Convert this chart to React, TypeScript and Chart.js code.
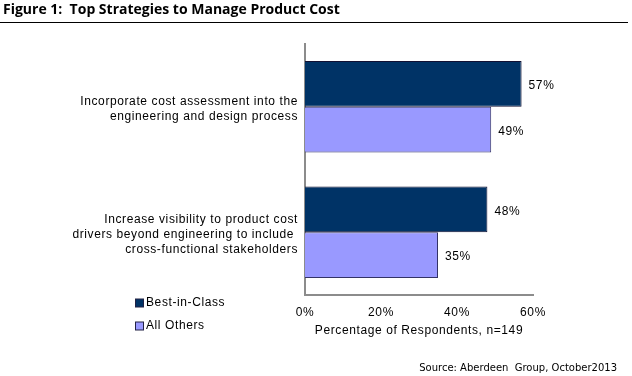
import React, { useEffect, useRef } from "react";
import { Chart, registerables } from "chart.js";

Chart.register(...registerables);

const categories: string[][] = [
  ["Incorporate cost assessment into the", "engineering and design process"],
  ["Increase visibility to product cost", "drivers beyond engineering to include ", "cross-functional stakeholders"],
];
const seriesNames = ["Best-in-Class", "All Others"];
const bestInClass = [57, 48];
const allOthers = [49, 35];
const xTicks = [0, 20, 40, 60];
const titleText = "Figure 1:  Top Strategies to Manage Product Cost";
const axisTitle = "Percentage of Respondents, n=149";
const sourceText = "Source: Aberdeen  Group, October2013";

const DARK = "#003366";
const LIGHT = "#9999ff";
const FONT = "'Liberation Sans', Arial, sans-serif";
const SPACING = "0.6px";

const decor = {
  id: "decor",
  beforeDraw(chart: any) {
    (chart.ctx as any).letterSpacing = SPACING;
  },
  afterDraw(chart: any) {
    const ctx = chart.ctx as any;
    ctx.save();
    // title
    ctx.letterSpacing = "0px";
    ctx.fillStyle = "#000";
    ctx.font = "bold 14px 'Open Sans', 'DejaVu Sans', sans-serif";
    ctx.textBaseline = "middle";
    ctx.textAlign = "left";
    ctx.fillText(titleText, 3, 10);
    ctx.strokeStyle = "#000";
    ctx.lineWidth = 1;
    ctx.beginPath();
    ctx.moveTo(0, 22.5);
    ctx.lineTo(628, 22.5);
    ctx.stroke();
    // source
    ctx.font = "10px 'DejaVu Sans', Tahoma, sans-serif";
    ctx.textAlign = "right";
    ctx.fillText(sourceText, 617, 368);
    // legend
    ctx.letterSpacing = SPACING;
    ctx.textAlign = "left";
    const colors = [DARK, LIGHT];
    const ys = [303, 326];
    ctx.font = `12px ${FONT}`;
    seriesNames.forEach((n, i) => {
      ctx.fillStyle = colors[i];
      ctx.fillRect(135.5, ys[i] - 4, 8, 8);
      ctx.strokeStyle = "#222244";
      ctx.strokeRect(135.5, ys[i] - 4, 8, 8);
      ctx.fillStyle = "#000";
      ctx.fillText(n, 146, ys[i]);
    });
    // data labels
    chart.data.datasets.forEach((ds: any, di: number) => {
      const meta = chart.getDatasetMeta(di);
      meta.data.forEach((bar: any, i: number) => {
        ctx.fillStyle = "#000";
        ctx.fillText(ds.data[i] + "%", bar.x + 7, bar.y + 2);
      });
    });
    ctx.restore();
  },
};

export default function App() {
  const ref = useRef<HTMLCanvasElement>(null);
  useEffect(() => {
    if (!ref.current) return;
    const chart = new Chart(ref.current, {
      type: "bar",
      data: {
        labels: categories as any,
        datasets: [
          { label: seriesNames[0], data: bestInClass, backgroundColor: DARK, borderColor: "#111133", borderWidth: 1 },
          { label: seriesNames[1], data: allOthers, backgroundColor: LIGHT, borderColor: "#333366", borderWidth: 1 },
        ],
      },
      options: {
        indexAxis: "y",
        animation: false,
        responsive: false,
        layout: { padding: { left: 0, top: 44, right: 99, bottom: 38 } },
        plugins: { legend: { display: false }, tooltip: { enabled: false }, title: { display: false } },
        datasets: { bar: { categoryPercentage: 0.73, barPercentage: 1 } },
        scales: {
          x: {
            min: 0,
            max: 60,
            afterFit: (s: any) => { s.height = 43; },
            afterBuildTicks: (s: any) => { s.ticks = xTicks.map((v) => ({ value: v })); },
            grid: { display: false, drawTicks: false },
            border: { display: true, color: "#8c8c8c", width: 2 },
            ticks: { padding: 10, color: "#000", font: { family: FONT, size: 12 }, callback: (v: any) => v + "%" },
            title: { display: true, text: axisTitle, color: "#000", font: { family: FONT, size: 12 }, padding: { top: 2, bottom: 0 } },
          },
          y: {
            afterFit: (s: any) => { s.width = 305; },
            grid: { display: false, drawTicks: false },
            border: { display: true, color: "#8c8c8c", width: 2 },
            ticks: { padding: 7, labelOffset: 2, color: "#000", font: { family: FONT, size: 12, lineHeight: 1.25 } },
          },
        },
      },
      plugins: [decor],
    });
    return () => chart.destroy();
  }, []);
  return (
    <div style={{ position: "absolute", left: 0, top: 0, width: 632, height: 376, background: "#fff" }}>
      <canvas ref={ref} width={632} height={376} style={{ width: 632, height: 376 }} />
    </div>
  );
}
